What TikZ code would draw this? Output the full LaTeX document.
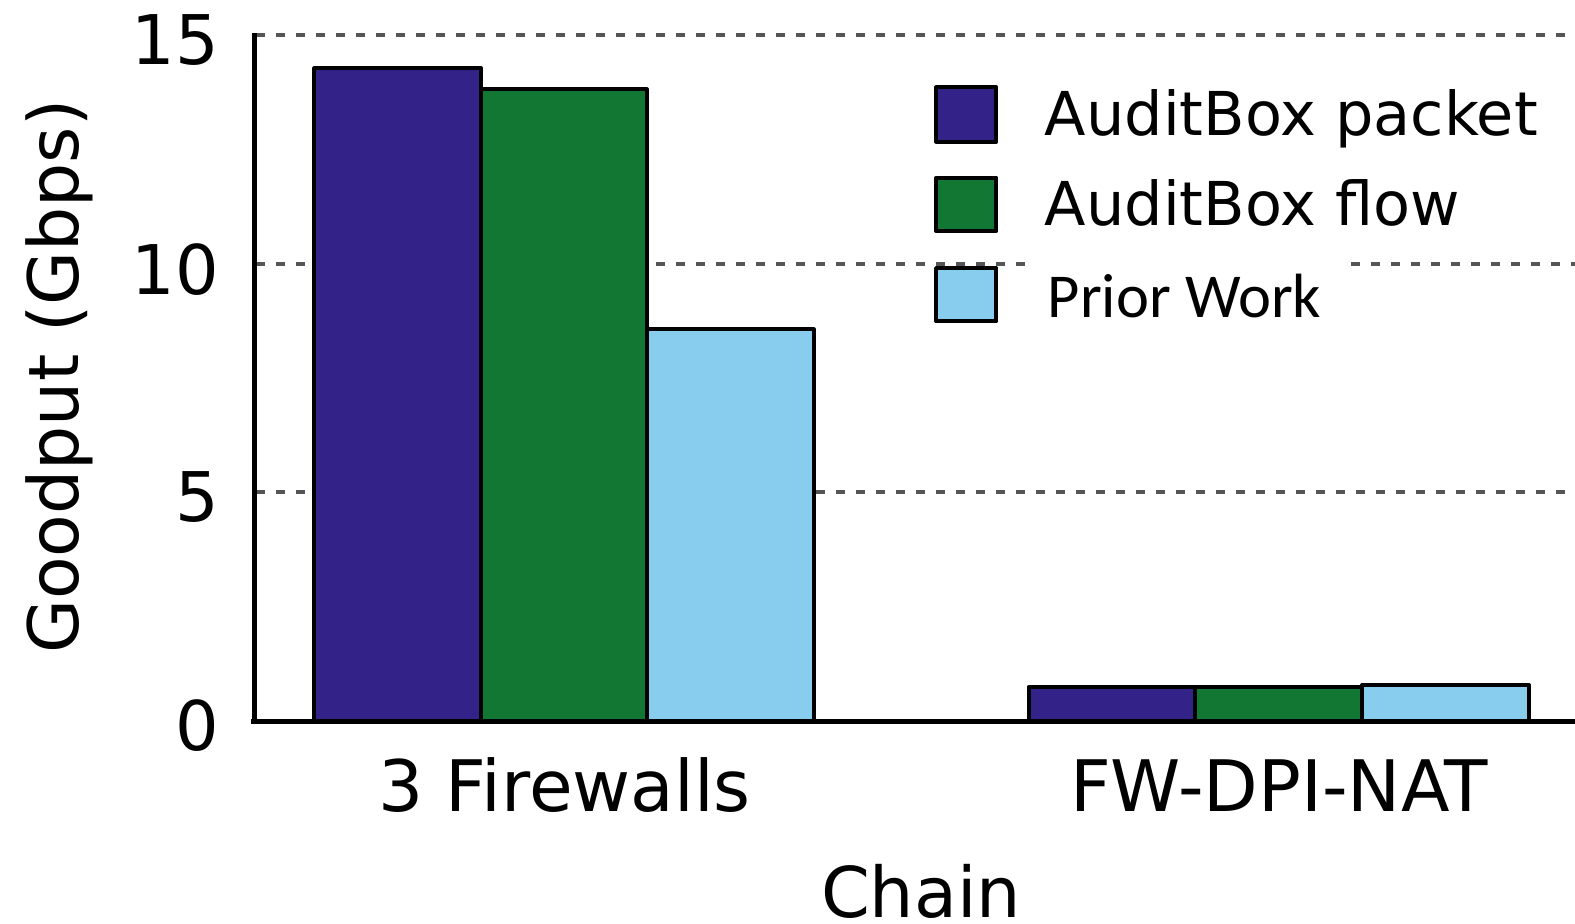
\documentclass[tikz,border=0pt]{standalone}
\usepackage{fontspec}
\setmainfont{DejaVu Sans}
\newfontfamily\legendalt{Carlito}
\definecolor{abpacket}{HTML}{332288}
\definecolor{abflow}{HTML}{117733}
\definecolor{prior}{HTML}{88CCEE}
\definecolor{gridgray}{HTML}{555555}
\begin{document}
\begin{tikzpicture}[x=1.0045bp,y=-1.0044bp,
  bar/.style={draw=black,line width=4bp,line join=round},
  gridline/.style={draw=gridgray,line width=3.5bp,dash pattern=on 9bp off 11bp},
  axisline/.style={draw=black,line width=5bp},
  ticklab/.style={anchor=east,inner sep=0pt,font=\fontsize{68.5bp}{72bp}\selectfont},
  catlab/.style={anchor=base,inner sep=0pt,font=\fontsize{71bp}{75bp}\selectfont},
  leglab/.style={anchor=base west,inner sep=0pt,font=\fontsize{60.5bp}{64bp}\selectfont}
]
\useasboundingbox (0,0) rectangle (1568,919);

% horizontal grid (behind the bars)
\draw[gridline] (255,35) -- (1568,35);
\draw[gridline] (255,263) -- (1020,263);
\draw[gridline] (1345,263) -- (1568,263);
\draw[gridline] (255,490) -- (1568,490);

% bars: 3 Firewalls
\filldraw[bar,fill=abpacket] (313,718) rectangle (479,68);
\filldraw[bar,fill=abflow]   (479,718) rectangle (644,89);
\filldraw[bar,fill=prior]    (644,718) rectangle (810,328);
% bars: FW-DPI-NAT
\filldraw[bar,fill=abpacket] (1024,718) rectangle (1190,684);
\filldraw[bar,fill=abflow]   (1190,718) rectangle (1356,684);
\filldraw[bar,fill=prior]    (1356,718) rectangle (1522,682);

% axes
\draw[axisline] (253,33) -- (253,720);
\draw[axisline] (250,718) -- (1568,718);

% y tick labels
\node[ticklab] (t15) at (218,40) {15};
\node[ticklab] (t10) at (218,268) {10};
\node[ticklab] (t5)  at (218,495) {5};
\node[ticklab] (t0)  at (218,722) {0};

% category and axis labels
\node[catlab] (cat1) at (562,808) {3 Firewalls};
\node[catlab] (cat2) at (1273,808) {FW-DPI-NAT};
\node[catlab,font=\fontsize{70bp}{74bp}\selectfont] (xlab) at (917,914) {Chain};
\node[anchor=base,inner sep=0pt,rotate=90,font=\fontsize{69.6bp}{72bp}\selectfont] (ylab) at (78,375) {Goodput (Gbps)};

% legend
\filldraw[bar,fill=abpacket] (932,87) rectangle (992,141);
\filldraw[bar,fill=abflow]   (932,177) rectangle (992,230);
\filldraw[bar,fill=prior]    (932,267) rectangle (992,320);
\node[leglab] (l1) at (1040,135) {AuditBox packet};
\node[leglab] (l2) at (1040,225) {AuditBox flow};
\node[leglab,font=\legendalt\fontsize{62.5bp}{66bp}\selectfont] (l3) at (1043,316) {Prior Work};
\end{tikzpicture}
\end{document}
